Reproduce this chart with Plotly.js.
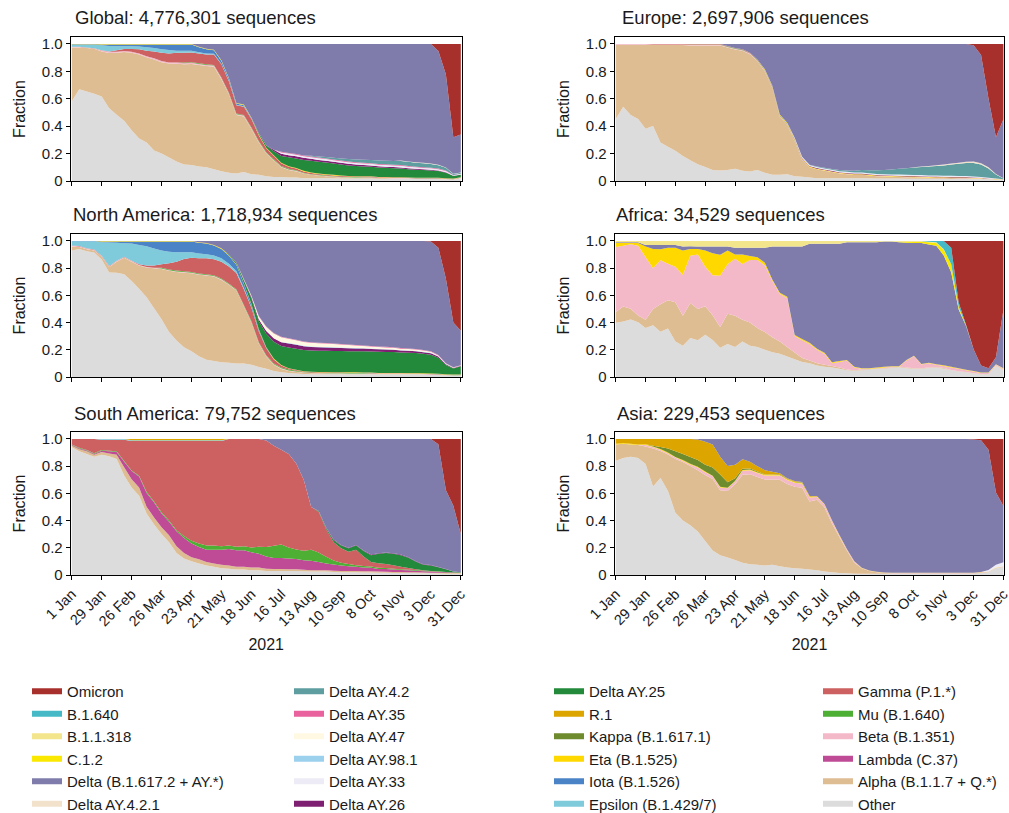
<!DOCTYPE html>
<html><head><meta charset="utf-8">
<script src="https://cdn.plot.ly/plotly-3.0.1.min.js"></script>
<style>html,body{margin:0;padding:0;background:#fff}#chart{width:1009px;height:813px}</style>
</head><body><div id="chart"></div>
<script>
// weekly sample dates (x values)
const weeks = ['2021-01-01','2021-01-08','2021-01-15','2021-01-22','2021-01-29','2021-02-05','2021-02-12','2021-02-19','2021-02-26','2021-03-05',
'2021-03-12','2021-03-19','2021-03-26','2021-04-02','2021-04-09','2021-04-16','2021-04-23','2021-04-30','2021-05-07','2021-05-14',
'2021-05-21','2021-05-28','2021-06-04','2021-06-11','2021-06-18','2021-06-25','2021-07-02','2021-07-09','2021-07-16','2021-07-23',
'2021-07-30','2021-08-06','2021-08-13','2021-08-20','2021-08-27','2021-09-03','2021-09-10','2021-09-17','2021-09-24','2021-10-01',
'2021-10-08','2021-10-15','2021-10-22','2021-10-29','2021-11-05','2021-11-12','2021-11-19','2021-11-26','2021-12-03','2021-12-10',
'2021-12-17','2021-12-24','2021-12-31'];
const tickDates = ['2021-01-01','2021-01-29','2021-02-26','2021-03-26','2021-04-23','2021-05-21','2021-06-18','2021-07-16','2021-08-13','2021-09-10','2021-10-08','2021-11-05','2021-12-03','2021-12-31'];
const tickText = ['1 Jan','29 Jan','26 Feb','26 Mar','23 Apr','21 May','18 Jun','16 Jul','13 Aug','10 Sep','8 Oct','5 Nov','3 Dec','31 Dec'];
const yTickVals = [0,0.2,0.4,0.6,0.8,1.0];
const yTickText = ['0','0.2','0.4','0.6','0.8','1.0'];

// ---------------- Global ----------------
const G_other = [0.58,0.67,0.65,0.63,0.61,0.52,0.48,0.44,0.37,0.31, 0.28,0.22,0.20,0.17,0.14,0.12,0.115,0.105,0.10,0.085, 0.07,0.06,0.055,0.065,0.05,0.045,0.035,0.03,0.03,0.025, 0.025,0.02,0.02,0.02,0.02,0.02,0.018,0.018,0.018,0.018, 0.018,0.017,0.017,0.016,0.016,0.016,0.015,0.015,0.015,0.015, 0.012,0.01,0.02];
const G_alpha = [0.39,0.305,0.315,0.325,0.325,0.395,0.45,0.50,0.565,0.61, 0.62,0.66,0.66,0.68,0.705,0.725,0.73,0.735,0.735,0.745, 0.67,0.57,0.425,0.405,0.33,0.235,0.165,0.12,0.07,0.055, 0.045,0.035,0.025,0.02,0.015,0.01,0.008,0.007,0.006,0.005, 0.005,0.004,0.004,0.003,0.003,0.003,0.002,0.002,0.002,0.002, 0.001,0.001,0.001];
const G_beta = [0.003,0.003,0.003,0.003,0.008,0.008,0.008,0.008,0.008,0.008, 0.008,0.008,0.008,0.008,0.008,0.008,0.008,0.008,0.008,0.008, 0.008,0.006,0.006,0.006,0.006,0.006,0.004,0.004,0.004,0.004, 0.004,0.002,0.002,0.002,0.002,0.002,0.002,0.002,0.002,0.002, 0.002,0.002,0.002,0.002,0.002,0.002,0.002,0.002,0.002,0.002, 0.002,0.002,0.002];
const G_mu = [0,0,0,0,0,0,0,0,0,0, 0,0,0,0,0,0.005,0.005,0.005,0.005,0.005, 0.005,0.005,0.005,0.005,0.005,0.005,0.005,0.005,0.005,0.005, 0.005,0.003,0.003,0.003,0.003,0.003,0.003,0.003,0.003,0.003, 0.003,0.001,0.001,0.001,0.001,0.001,0.001,0.001,0.001,0.001, 0.001,0.001,0.001];
const G_gamma = [0.002,0.002,0.002,0.002,0.002,0.002,0.01,0.015,0.02,0.03, 0.04,0.05,0.06,0.065,0.07,0.07,0.07,0.07,0.07,0.075, 0.095,0.085,0.06,0.06,0.06,0.04,0.03,0.025,0.02,0.015, 0.012,0.01,0.008,0.006,0.006,0.006,0.006,0.004,0.004,0.004, 0.004,0.004,0.004,0.004,0.004,0.002,0.002,0.002,0.002,0.002, 0.002,0.002,0.002];
const G_epsilon = [0.015,0.015,0.02,0.025,0.035,0.04,0.03,0.02,0.02,0.02, 0.025,0.025,0.025,0.025,0.015,0.015,0.012,0.01,0.008,0.006, 0.005,0.004,0.003,0.003,0.003,0,0,0,0,0, 0,0,0,0,0,0,0,0,0,0, 0,0,0,0,0,0,0,0,0,0, 0,0,0];
const G_iota = [0.003,0.003,0.003,0.003,0.006,0.01,0.012,0.012,0.012,0.015, 0.02,0.025,0.035,0.04,0.045,0.045,0.045,0.035,0.03,0.025, 0.02,0.015,0.01,0.008,0.005,0.003,0,0,0,0, 0,0,0,0,0,0,0,0,0,0, 0,0,0,0,0,0,0,0,0,0, 0,0,0];
const G_eta = [0.002,0.002,0.002,0.002,0.004,0.004,0.004,0.004,0.004,0.004, 0.004,0.004,0.004,0.004,0.004,0.004,0.004,0.004,0.004,0.004, 0.004,0.004,0.004,0.004,0.004,0.004,0.004,0.004,0.004,0.004, 0.004,0.004,0.004,0.004,0.004,0.004,0.004,0.002,0.002,0.002, 0.002,0.002,0.002,0.002,0.002,0.002,0.002,0.002,0.002,0.002, 0.002,0.002,0.002];
const G_ay25 = [0,0,0,0,0,0,0,0,0,0, 0,0,0,0,0,0,0,0,0,0, 0,0,0,0,0,0.01,0.015,0.03,0.05,0.065, 0.07,0.08,0.085,0.085,0.085,0.083,0.08,0.078,0.075,0.072, 0.07,0.068,0.066,0.065,0.063,0.06,0.057,0.055,0.052,0.048, 0.04,0.018,0.018];
const G_ay26 = [0,0,0,0,0,0,0,0,0,0, 0,0,0,0,0,0,0,0,0,0, 0,0,0,0,0,0,0,0.01,0.015,0.015, 0.015,0.015,0.015,0.014,0.013,0.012,0.012,0.011,0.01,0.01, 0.009,0.009,0.008,0.008,0.008,0.007,0.007,0.006,0.006,0.005, 0.004,0.002,0.002];
const G_ay33 = [0,0,0,0,0,0,0,0,0,0, 0,0,0,0,0,0,0,0,0,0, 0,0,0,0,0,0,0,0,0.01,0.012, 0.012,0.012,0.012,0.012,0.012,0.012,0.012,0.012,0.012,0.012, 0.012,0.012,0.012,0.012,0.012,0.011,0.011,0.01,0.01,0.009, 0.008,0.004,0.004];
const G_ay35 = [0,0,0,0,0,0,0,0,0,0, 0,0,0,0,0,0,0,0,0,0, 0,0,0,0,0,0,0,0,0.005,0.005, 0.005,0.005,0.005,0.005,0.005,0.005,0.005,0.005,0.005,0.005, 0.005,0.005,0.005,0.005,0.005,0.005,0.004,0.004,0.004,0.004, 0.004,0.001,0.001];
const G_ay42 = [0,0,0,0,0,0,0,0,0,0, 0,0,0,0,0,0,0,0,0,0, 0,0,0,0,0,0,0,0,0,0, 0,0,0.005,0.008,0.01,0.012,0.015,0.018,0.02,0.022, 0.024,0.025,0.026,0.028,0.03,0.03,0.03,0.03,0.028,0.024, 0.02,0.008,0.008];
const G_ay421 = [0,0,0,0,0,0,0,0,0,0, 0,0,0,0,0,0,0,0,0,0, 0,0,0,0,0,0,0,0,0,0, 0,0,0,0,0,0,0,0,0,0, 0,0,0,0,0.003,0.003,0.003,0.003,0.003,0.003, 0.002,0.001,0.001];
const G_delta = [0,0,0,0,0,0,0,0,0,0, 0,0,0,0,0,0,0,0.02,0.035,0.042, 0.119,0.247,0.429,0.441,0.535,0.65,0.741,0.772,0.787,0.795, 0.803,0.814,0.816,0.821,0.825,0.831,0.835,0.84,0.843,0.845, 0.846,0.848,0.85,0.85,0.848,0.853,0.858,0.862,0.867,0.827, 0.678,0.266,0.276];
const G_omicron = [0,0,0,0,0,0,0,0,0,0, 0,0,0,0,0,0,0,0,0,0, 0,0,0,0,0,0,0,0,0,0, 0,0,0,0,0,0,0,0,0,0, 0,0,0,0,0,0,0,0,0,0.05, 0.22,0.68,0.66];

// ---------------- Europe ----------------
const E_other = [0.45,0.54,0.48,0.45,0.38,0.40,0.28,0.25,0.22,0.18, 0.15,0.12,0.10,0.08,0.075,0.08,0.09,0.075,0.07,0.08, 0.06,0.045,0.045,0.05,0.035,0.03,0.025,0.02,0.02,0.02, 0.02,0.02,0.02,0.02,0.02,0.018,0.018,0.018,0.018,0.017, 0.017,0.017,0.016,0.016,0.016,0.015,0.015,0.015,0.015,0.015, 0.012,0.01,0.01];
const E_alpha = [0.54,0.45,0.51,0.54,0.61,0.59,0.71,0.74,0.765,0.80, 0.825,0.855,0.875,0.895,0.90,0.89,0.87,0.875,0.855,0.795, 0.74,0.635,0.425,0.36,0.255,0.12,0.075,0.065,0.055,0.045, 0.035,0.03,0.025,0.025,0.02,0.017,0.015,0.013,0.012,0.011, 0.01,0.009,0.008,0.007,0.006,0.006,0.005,0.005,0.004,0.004, 0.003,0.003,0.002];
const E_beta = [0.005,0.005,0.005,0.005,0.005,0.005,0.005,0.005,0.005,0.005, 0.005,0.005,0.005,0.005,0.005,0.005,0.005,0.005,0.005,0.005, 0.005,0.004,0.004,0.004,0.004,0.004,0.001,0.001,0.001,0.001, 0.001,0.001,0.001,0.001,0.001,0.001,0.001,0.001,0.001,0.001, 0.001,0.001,0.001,0.001,0.001,0.001,0.001,0.001,0.001,0.001, 0.001,0,0];
const E_mu = [0,0,0,0,0,0,0,0,0,0, 0.003,0.003,0.003,0.003,0.003,0.003,0.003,0.003,0.003,0.003, 0.003,0.003,0.003,0.003,0.003,0.003,0,0,0,0, 0,0,0,0,0,0,0,0,0,0, 0,0,0,0,0,0,0,0,0,0, 0,0,0];
const E_gamma = [0,0,0,0,0,0.003,0.003,0.003,0.003,0.003, 0.003,0.003,0.003,0.003,0.003,0.003,0.003,0.003,0.003,0.003, 0.003,0.003,0.003,0.003,0.003,0.003,0,0,0,0, 0,0,0,0,0,0,0,0,0,0, 0,0,0,0,0,0,0,0,0,0, 0,0,0];
const E_eta = [0,0,0,0,0,0,0,0,0,0, 0,0,0,0,0,0,0,0,0,0, 0.004,0.004,0.004,0.004,0.004,0.004,0.004,0.004,0.004,0.004, 0.004,0.004,0.004,0.004,0.004,0.004,0.004,0.004,0.004,0.004, 0.004,0.004,0.004,0.004,0.004,0.004,0.004,0.004,0.002,0.002, 0.001,0.001,0];
const E_ay26 = [0,0,0,0,0,0,0,0,0,0, 0,0,0,0,0,0,0,0,0,0, 0,0,0,0,0.004,0.004,0.004,0.004,0.004,0.004, 0.004,0.004,0.004,0.004,0.004,0.004,0.004,0.004,0.004,0.004, 0.004,0.004,0.004,0.004,0.004,0.004,0.004,0.004,0.003,0.002, 0.002,0.001,0];
const E_ay33 = [0,0,0,0,0,0,0,0,0,0, 0,0,0,0,0,0,0,0,0,0, 0,0,0,0,0.008,0.008,0.008,0.008,0.008,0.008, 0.008,0.008,0.008,0.008,0.008,0.008,0.008,0.008,0.008,0.008, 0.008,0.008,0.008,0.008,0.008,0.008,0.008,0.008,0.007,0.006, 0.005,0.003,0.001];
const E_ay42 = [0,0,0,0,0,0,0,0,0,0, 0,0,0,0,0,0,0,0,0,0, 0,0,0,0,0,0,0.002,0.003,0.004,0.006, 0.008,0.01,0.012,0.018,0.022,0.026,0.03,0.036,0.042,0.048, 0.055,0.06,0.065,0.07,0.075,0.082,0.088,0.095,0.10,0.09, 0.068,0.03,0.006];
const E_ay421 = [0,0,0,0,0,0,0,0,0,0, 0,0,0,0,0,0,0,0,0,0, 0,0,0,0,0,0,0,0,0,0, 0,0,0,0,0,0,0,0,0,0, 0.002,0.003,0.004,0.005,0.006,0.007,0.008,0.009,0.01,0.01, 0.008,0.003,0.001];
const E_delta = [0,0,0,0,0,0,0,0,0,0, 0,0,0,0,0,0.015,0.029,0.039,0.064,0.114, 0.185,0.305,0.515,0.575,0.684,0.82,0.881,0.895,0.904,0.912, 0.92,0.923,0.926,0.92,0.921,0.922,0.92,0.916,0.911,0.907, 0.899,0.894,0.89,0.885,0.88,0.873,0.867,0.859,0.848,0.79, 0.50,0.269,0.43];
const E_omicron = [0,0,0,0,0,0,0,0,0,0, 0,0,0,0,0,0,0,0,0,0, 0,0,0,0,0,0,0,0,0,0, 0,0,0,0,0,0,0,0,0,0, 0,0,0,0,0,0,0,0,0.01,0.08, 0.40,0.68,0.55];

// ---------------- North America ----------------
const NA_other = [0.93,0.94,0.92,0.91,0.86,0.76,0.76,0.75,0.70,0.64, 0.58,0.50,0.42,0.33,0.27,0.22,0.19,0.155,0.13,0.12, 0.11,0.105,0.10,0.10,0.09,0.075,0.06,0.045,0.035,0.03, 0.025,0.022,0.02,0.02,0.02,0.02,0.02,0.02,0.02,0.02, 0.02,0.02,0.02,0.02,0.02,0.02,0.02,0.018,0.016,0.015, 0.012,0.01,0.01];
const NA_alpha = [0.03,0.015,0.015,0.015,0.02,0.04,0.08,0.12,0.14,0.17, 0.215,0.29,0.365,0.45,0.505,0.55,0.575,0.61,0.63,0.635, 0.61,0.575,0.54,0.42,0.31,0.175,0.09,0.045,0.025,0.015, 0.012,0.01,0.008,0.007,0.006,0.005,0.005,0.004,0.004,0.004, 0.003,0.003,0.003,0.003,0.003,0.002,0.002,0.002,0.002,0.002, 0.001,0.001,0.001];
const NA_beta = [0.004,0.004,0.004,0.004,0.004,0.004,0.004,0.004,0.004,0.004, 0.004,0.004,0.004,0.004,0.004,0.004,0.004,0.004,0.004,0.004, 0.004,0.004,0.004,0.004,0.004,0.004,0.004,0.004,0.004,0.004, 0.004,0.002,0.002,0.002,0.002,0.002,0.002,0.002,0.002,0.002, 0.002,0.002,0.002,0.002,0.002,0.002,0.002,0.002,0.002,0.002, 0.002,0.002,0.002];
const NA_mu = [0,0,0,0,0,0,0,0,0,0, 0,0,0.006,0.006,0.006,0.006,0.006,0.006,0.006,0.006, 0.006,0.006,0.006,0.006,0.006,0.006,0.006,0.006,0.006,0.006, 0.006,0.003,0.003,0.003,0.003,0.003,0.003,0.003,0.003,0.003, 0.003,0.001,0.001,0.001,0.001,0.001,0.001,0.001,0.001,0.001, 0.001,0.001,0.001];
const NA_gamma = [0.003,0.003,0.003,0.003,0.003,0.003,0.003,0.003,0.003,0.005, 0.01,0.015,0.025,0.045,0.065,0.09,0.105,0.115,0.12,0.12, 0.125,0.125,0.12,0.115,0.10,0.08,0.05,0.03,0.015,0.008, 0.005,0.003,0.003,0.003,0.003,0.003,0.003,0.003,0.003,0.003, 0.003,0.002,0.002,0.002,0.002,0.002,0.002,0.002,0.002,0.002, 0.002,0.002,0.002];
const NA_epsilon = [0.03,0.035,0.05,0.06,0.10,0.17,0.13,0.10,0.125,0.14, 0.14,0.125,0.10,0.085,0.07,0.05,0.04,0.035,0.03,0.028, 0.025,0.02,0.015,0.01,0.006,0.003,0,0,0,0, 0,0,0,0,0,0,0,0,0,0, 0,0,0,0,0,0,0,0,0,0, 0,0,0];
const NA_iota = [0.003,0.003,0.003,0.003,0.005,0.008,0.01,0.012,0.015,0.025, 0.035,0.05,0.065,0.075,0.08,0.08,0.08,0.08,0.08,0.075, 0.07,0.06,0.045,0.03,0.018,0.01,0.005,0.002,0,0, 0,0,0,0,0,0,0,0,0,0, 0,0,0,0,0,0,0,0,0,0, 0,0,0];
const NA_eta = [0,0,0,0,0.004,0.004,0.004,0.004,0.004,0.004, 0.004,0.004,0.004,0.004,0.004,0.004,0.004,0.004,0.004,0.004, 0.004,0.004,0.004,0.004,0.004,0.004,0.004,0.004,0.004,0.002, 0.002,0.002,0.002,0.002,0.002,0.002,0.002,0.002,0.002,0.002, 0.002,0.002,0.002,0.002,0.002,0.002,0.002,0.002,0.002,0.002, 0.002,0.002,0.002];
const NA_ay25 = [0,0,0,0,0,0,0,0,0,0, 0,0,0,0,0,0,0,0,0,0, 0,0.005,0.01,0.02,0.04,0.06,0.10,0.125,0.14,0.155, 0.155,0.155,0.155,0.155,0.155,0.155,0.155,0.155,0.155,0.155, 0.155,0.155,0.155,0.155,0.15,0.15,0.148,0.145,0.14,0.12, 0.07,0.045,0.06];
const NA_ay26 = [0,0,0,0,0,0,0,0,0,0, 0,0,0,0,0,0,0,0,0,0, 0,0,0.003,0.006,0.01,0.015,0.02,0.025,0.028,0.03, 0.03,0.028,0.027,0.026,0.025,0.024,0.023,0.022,0.021,0.02, 0.019,0.018,0.017,0.016,0.015,0.014,0.013,0.012,0.011,0.009, 0.005,0.003,0.003];
const NA_ay98 = [0,0,0,0,0,0,0,0,0,0, 0,0,0,0,0,0,0,0,0,0, 0,0,0,0,0,0,0,0,0.003,0.003, 0.003,0.003,0.003,0.003,0.003,0.003,0.003,0.003,0.003,0.003, 0.003,0.003,0.003,0.003,0.003,0.003,0.003,0.003,0.003,0.002, 0.001,0.001,0.001];
const NA_ay47 = [0,0,0,0,0,0,0,0,0,0, 0,0,0,0,0,0,0,0,0,0, 0,0,0,0.005,0.01,0.02,0.03,0.035,0.035,0.032, 0.03,0.028,0.027,0.026,0.025,0.024,0.022,0.02,0.018,0.016, 0.015,0.014,0.013,0.012,0.011,0.01,0.01,0.009,0.008,0.006, 0.004,0.002,0.002];
const NA_ay35 = [0,0,0,0,0,0,0,0,0,0, 0,0,0,0,0,0,0,0,0,0, 0,0,0,0,0,0.004,0.004,0.004,0.004,0.004, 0.004,0.004,0.004,0.004,0.004,0.004,0.004,0.004,0.004,0.004, 0.004,0.004,0.004,0.004,0.004,0.004,0.004,0.004,0.004,0.002, 0.002,0.002,0.002];
const NA_delta = [0,0,0,0,0,0,0,0,0,0, 0,0,0,0,0,0,0,0.01,0.015,0.03, 0.055,0.10,0.16,0.28,0.40,0.56,0.63,0.68,0.71,0.725, 0.73,0.735,0.74,0.745,0.745,0.75,0.755,0.76,0.765,0.77, 0.775,0.775,0.78,0.785,0.79,0.795,0.80,0.81,0.81,0.80, 0.63,0.33,0.25];
const NA_omicron = [0,0,0,0,0,0,0,0,0,0, 0,0,0,0,0,0,0,0,0,0, 0,0,0,0,0,0,0,0,0,0, 0,0,0,0,0,0,0,0,0,0, 0,0,0,0,0,0,0,0,0.005,0.05, 0.28,0.60,0.65];

// ---------------- Africa ----------------
const AF_other = [0.40,0.41,0.42,0.40,0.36,0.38,0.33,0.36,0.26,0.23, 0.29,0.27,0.31,0.27,0.21,0.24,0.22,0.26,0.23,0.22, 0.20,0.18,0.17,0.15,0.13,0.11,0.10,0.085,0.075,0.07, 0.06,0.05,0.045,0.05,0.055,0.06,0.06,0.065,0.07,0.065, 0.06,0.06,0.065,0.07,0.06,0.05,0.04,0.035,0.025,0.02, 0.02,0.08,0.05];
const AF_alpha = [0.08,0.11,0.08,0.05,0.06,0.12,0.20,0.21,0.29,0.22, 0.26,0.23,0.21,0.18,0.15,0.22,0.23,0.16,0.17,0.14, 0.13,0.11,0.09,0.07,0.05,0.03,0.02,0.015,0.015,0.01, 0.01,0.005,0.004,0.004,0.004,0.004,0.004,0.004,0.004,0.004, 0.004,0.004,0.004,0.004,0.004,0.002,0.002,0.002,0.002,0.002, 0.002,0.002,0.002];
const AF_beta = [0.48,0.45,0.47,0.51,0.46,0.30,0.32,0.27,0.26,0.30, 0.35,0.40,0.29,0.29,0.37,0.36,0.42,0.41,0.46,0.50, 0.49,0.41,0.35,0.36,0.12,0.13,0.12,0.10,0.08,0.02, 0.04,0.065,0.021,0.006,0.001,0.001,0.006,0.006,0.001,0.051, 0.086,0.026,0.031,0.016,0.016,0.018,0.018,0.013,0.013,0.008, 0.008,0.008,0.008];
const AF_eta = [0.03,0.02,0.01,0.02,0.08,0.14,0.08,0.12,0.14,0.18, 0.05,0.04,0.12,0.16,0.15,0.10,0.03,0.07,0.03,0.02, 0.02,0.01,0.01,0.01,0.008,0.008,0.008,0.008,0.008,0.008, 0.008,0.004,0.004,0.004,0.004,0.004,0.004,0.004,0.004,0.004, 0.004,0.004,0.004,0.004,0.004,0.004,0.004,0.004,0.004,0.004, 0.004,0.004,0.004];
const AF_delta = [0.005,0.005,0.005,0.005,0.01,0.03,0.03,0.02,0.02,0.03, 0.02,0.02,0.03,0.05,0.06,0.03,0.05,0.05,0.06,0.07, 0.11,0.24,0.34,0.37,0.65,0.68,0.72,0.77,0.80,0.87, 0.86,0.86,0.91,0.92,0.925,0.92,0.915,0.91,0.90,0.86, 0.82,0.88,0.86,0.87,0.79,0.69,0.43,0.32,0.16,0.05, 0.03,0.05,0.42];
const AF_c12 = [0,0,0,0,0,0,0,0,0,0, 0,0,0,0,0,0,0,0,0,0, 0,0,0,0,0,0,0,0,0,0, 0,0,0,0,0,0,0,0,0.005,0.008, 0.01,0.01,0.015,0.02,0.04,0.06,0.02,0.005,0,0, 0,0,0];
const AF_b11318 = [0.01,0.01,0.01,0.01,0.03,0.03,0.03,0.03,0.03,0.04, 0.04,0.04,0.04,0.04,0.04,0.04,0.05,0.05,0.05,0.05, 0.05,0.04,0.04,0.04,0.04,0.04,0.02,0.02,0.02,0.02, 0.02,0.01,0.01,0.01,0.01,0.01,0.005,0.005,0.005,0.005, 0.005,0.005,0.005,0.005,0.005,0,0,0,0,0, 0,0,0];
const AF_b1640 = [0,0,0,0,0,0,0,0,0,0, 0,0,0,0,0,0,0,0,0,0, 0,0,0,0,0,0,0,0,0,0, 0,0,0,0,0,0,0,0,0,0, 0,0,0.005,0.01,0.06,0.12,0.03,0.005,0,0, 0,0,0];
const AF_omicron = [0,0,0,0,0,0,0,0,0,0, 0,0,0,0,0,0,0,0,0,0, 0,0,0,0,0,0,0,0,0,0, 0,0,0,0,0,0,0,0,0,0, 0,0,0,0,0,0.05,0.45,0.62,0.80,0.92, 0.94,0.85,0.50];

// ---------------- South America ----------------
const SA_other = [0.93,0.90,0.88,0.86,0.87,0.86,0.84,0.72,0.64,0.58, 0.45,0.37,0.30,0.24,0.16,0.12,0.10,0.085,0.07,0.06, 0.05,0.045,0.04,0.04,0.035,0.035,0.03,0.03,0.03,0.03, 0.03,0.028,0.025,0.025,0.025,0.022,0.02,0.02,0.02,0.018, 0.018,0.017,0.016,0.015,0.015,0.015,0.014,0.013,0.012,0.012, 0.01,0.01,0.01];
const SA_alpha = [0.01,0.015,0.02,0.015,0.02,0.02,0.03,0.06,0.06,0.06, 0.05,0.05,0.05,0.05,0.05,0.04,0.03,0.03,0.025,0.025, 0.025,0.025,0.02,0.02,0.02,0.02,0.015,0.015,0.015,0.012, 0.012,0.01,0.01,0.01,0.01,0.01,0.01,0.01,0.01,0.01, 0.01,0.008,0.008,0.007,0.007,0.006,0.006,0.005,0.005,0.005, 0.005,0.005,0.005];
const SA_lambda = [0.005,0.005,0.005,0.005,0.01,0.015,0.02,0.04,0.06,0.08, 0.10,0.11,0.10,0.10,0.11,0.11,0.10,0.09,0.09,0.10, 0.11,0.12,0.12,0.12,0.11,0.10,0.09,0.08,0.08,0.08, 0.075,0.07,0.07,0.06,0.05,0.045,0.04,0.035,0.03,0.028, 0.025,0.02,0.02,0.018,0.015,0.013,0.012,0.01,0.008,0.006, 0.005,0.003,0.002];
const SA_mu = [0.005,0.005,0.005,0.005,0.005,0.005,0.005,0.005,0.005,0.005, 0.008,0.008,0.008,0.008,0.008,0.015,0.02,0.025,0.03,0.03, 0.025,0.025,0.025,0.03,0.035,0.05,0.07,0.09,0.10,0.08, 0.07,0.07,0.08,0.07,0.05,0.03,0.02,0.015,0.012,0.01, 0.01,0.008,0.007,0.006,0.006,0.005,0.005,0.004,0.003,0.003, 0.002,0.002,0.001];
const SA_gamma = [0.04,0.065,0.08,0.105,0.075,0.08,0.085,0.155,0.215,0.255, 0.372,0.442,0.522,0.582,0.652,0.695,0.73,0.75,0.765,0.765, 0.77,0.775,0.785,0.78,0.79,0.785,0.78,0.735,0.695,0.688, 0.633,0.522,0.315,0.30,0.201,0.134,0.106,0.091,0.114,0.07, 0.033,0.033,0.03,0.025,0.018,0.012,0.005,0.003,0.002,0.002, 0.001,0.001,0];
const SA_epsilon = [0,0,0,0,0.005,0.005,0.005,0.005,0.005,0.005, 0.005,0.005,0.005,0.005,0.005,0.005,0.005,0.005,0.005,0.005, 0.005,0,0,0,0,0,0,0,0,0, 0,0,0,0,0,0,0,0,0,0, 0,0,0,0,0,0,0,0,0,0, 0,0,0];
const SA_r1 = [0,0,0,0,0,0,0,0,0.01,0.01, 0.01,0.01,0.01,0.01,0.01,0.01,0.01,0.01,0.01,0.01, 0.01,0,0,0,0,0,0,0,0,0, 0,0,0,0,0,0,0,0,0,0, 0,0,0,0,0,0,0,0,0,0, 0,0,0];
const SA_ay25 = [0,0,0,0,0,0,0,0,0,0, 0,0,0,0,0,0,0,0,0,0, 0,0,0,0,0,0,0,0,0,0, 0,0,0,0.005,0.01,0.015,0.02,0.025,0.03,0.04, 0.05,0.07,0.08,0.085,0.085,0.075,0.055,0.04,0.04,0.03, 0.02,0.006,0.002];
const SA_ay26 = [0,0,0,0,0,0,0,0,0,0, 0,0,0,0,0,0,0,0,0,0, 0,0,0,0,0,0,0,0,0,0, 0,0,0,0,0.004,0.004,0.004,0.004,0.004,0.004, 0.004,0.004,0.004,0.004,0.004,0.004,0.004,0.004,0.003,0.002, 0.001,0,0];
const SA_delta = [0,0,0,0,0,0,0,0,0,0, 0,0,0,0,0,0,0,0,0,0, 0,0,0,0,0,0,0.012,0.05,0.08,0.11, 0.18,0.30,0.50,0.53,0.65,0.74,0.78,0.80,0.78,0.82, 0.85,0.84,0.835,0.84,0.85,0.87,0.90,0.92,0.93,0.91, 0.59,0.49,0.285];
const SA_omicron = [0,0,0,0,0,0,0,0,0,0, 0,0,0,0,0,0,0,0,0,0, 0,0,0,0,0,0,0,0,0,0, 0,0,0,0,0,0,0,0,0,0, 0,0,0,0,0,0,0,0,0,0.04, 0.38,0.50,0.71];

// ---------------- Asia ----------------
const AS_other = [0.84,0.86,0.87,0.86,0.82,0.65,0.72,0.62,0.45,0.40, 0.36,0.32,0.25,0.18,0.145,0.13,0.11,0.09,0.08,0.075, 0.07,0.075,0.065,0.055,0.05,0.045,0.04,0.035,0.025,0.02, 0.015,0.012,0.01,0.01,0.01,0.01,0.01,0.01,0.01,0.01, 0.01,0.01,0.01,0.01,0.01,0.01,0.01,0.01,0.01,0.015, 0.02,0.05,0.06];
const AS_alpha = [0.12,0.105,0.09,0.095,0.13,0.28,0.20,0.27,0.39,0.43, 0.43,0.45,0.485,0.525,0.475,0.49,0.56,0.65,0.67,0.645, 0.63,0.625,0.645,0.615,0.60,0.595,0.50,0.515,0.475,0.36, 0.265,0.168,0.08,0.04,0.02,0.01,0.005,0.003,0.003,0.003, 0.003,0.003,0.003,0.003,0.003,0.003,0.003,0.003,0.003,0.003, 0.003,0.003,0.003];
const AS_beta = [0,0,0,0,0.01,0.01,0.01,0.01,0.01,0.01, 0.01,0.02,0.02,0.02,0.02,0.02,0.02,0.03,0.03,0.03, 0.03,0.03,0.03,0.03,0.03,0.03,0.03,0.02,0.02,0.02, 0.01,0.01,0.01,0.002,0.002,0.002,0.002,0.002,0.002,0.002, 0.002,0.002,0.002,0.002,0.002,0.002,0.002,0.002,0.002,0.002, 0.002,0.002,0.002];
const AS_eta = [0.005,0.005,0.005,0.005,0.005,0.005,0.005,0.005,0.005,0.005, 0.005,0.005,0.005,0.005,0.005,0.005,0.005,0.005,0.005,0.005, 0.005,0.005,0.005,0.005,0.005,0.005,0.005,0.005,0.005,0.005, 0.005,0.001,0.001,0.001,0.001,0.001,0.001,0.001,0.001,0.001, 0.001,0.001,0.001,0.001,0.001,0.001,0.001,0.001,0.001,0.001, 0.001,0.001,0.001];
const AS_kappa = [0,0,0,0,0,0.005,0.015,0.03,0.04,0.045, 0.05,0.05,0.05,0.06,0.09,0.04,0.02,0.01,0.008,0.005, 0.003,0.003,0.003,0.003,0.003,0.003,0,0,0,0, 0,0,0,0,0,0,0,0,0,0, 0,0,0,0,0,0,0,0,0,0, 0,0,0];
const AS_r1 = [0.035,0.03,0.035,0.04,0.04,0.05,0.06,0.07,0.09,0.11, 0.13,0.15,0.17,0.17,0.13,0.12,0.10,0.07,0.05,0.04, 0.03,0.02,0.01,0.005,0.005,0.005,0.005,0,0,0, 0,0,0,0,0,0,0,0,0,0, 0,0,0,0,0,0,0,0,0,0, 0,0,0];
const AS_ay33 = [0,0,0,0,0,0,0,0,0,0, 0,0,0,0,0,0,0,0,0,0, 0,0,0,0,0,0,0,0,0,0, 0,0,0,0,0,0,0,0,0,0, 0,0,0,0,0,0,0,0,0,0, 0.01,0.02,0.03];
const AS_delta = [0,0,0,0,0,0,0,0,0,0, 0,0.005,0.02,0.04,0.13,0.20,0.19,0.15,0.17,0.20, 0.23,0.24,0.255,0.29,0.31,0.315,0.42,0.42,0.48,0.60, 0.71,0.81,0.905,0.945,0.965,0.975,0.98,0.98,0.98,0.98, 0.98,0.98,0.98,0.98,0.98,0.98,0.98,0.98,0.975,0.96, 0.88,0.54,0.42];
const AS_omicron = [0,0,0,0,0,0,0,0,0,0, 0,0,0,0,0,0,0,0,0,0, 0,0,0,0,0,0,0,0,0,0, 0,0,0,0,0,0,0,0,0,0, 0,0,0,0,0,0,0,0,0.005,0.01, 0.08,0.40,0.50];

// ---------------- styling (stack order bottom -> top) ----------------
const VARIANTS = [
  {key:'other',  name:'Other',                   color:'#DCDCDC', legend:'legend4', rank:6},
  {key:'alpha',  name:'Alpha (B.1.1.7 + Q.*)',   color:'#DFBD92', legend:'legend4', rank:5},
  {key:'lambda', name:'Lambda (C.37)',           color:'#BF4B96', legend:'legend4', rank:4},
  {key:'beta',   name:'Beta (B.1.351)',          color:'#F4B9C9', legend:'legend4', rank:3},
  {key:'mu',     name:'Mu (B.1.640)',            color:'#4DAF34', legend:'legend4', rank:2},
  {key:'gamma',  name:'Gamma (P.1.*)',           color:'#CD6060', legend:'legend4', rank:1},
  {key:'epsilon',name:'Epsilon (B.1.429/7)',     color:'#7FCBDC', legend:'legend3', rank:6},
  {key:'iota',   name:'Iota (B.1.526)',          color:'#4B84C6', legend:'legend3', rank:5},
  {key:'eta',    name:'Eta (B.1.525)',           color:'#FFD800', legend:'legend3', rank:4},
  {key:'kappa',  name:'Kappa (B.1.617.1)',       color:'#6E8B2E', legend:'legend3', rank:3},
  {key:'r1',     name:'R.1',                     color:'#DCA500', legend:'legend3', rank:2},
  {key:'ay25',   name:'Delta AY.25',             color:'#238A3B', legend:'legend3', rank:1},
  {key:'ay26',   name:'Delta AY.26',             color:'#7F1F72', legend:'legend2', rank:6},
  {key:'ay33',   name:'Delta AY.33',             color:'#ECEBF6', legend:'legend2', rank:5},
  {key:'ay98',   name:'Delta AY.98.1',           color:'#9CD1EE', legend:'legend2', rank:4},
  {key:'ay47',   name:'Delta AY.47',             color:'#FFF8E2', legend:'legend2', rank:3},
  {key:'ay35',   name:'Delta AY.35',             color:'#E9629E', legend:'legend2', rank:2},
  {key:'ay42',   name:'Delta AY.4.2',            color:'#5F9EA0', legend:'legend2', rank:1},
  {key:'ay421',  name:'Delta AY.4.2.1',          color:'#F2E2CC', legend:'legend',  rank:6},
  {key:'delta',  name:'Delta (B.1.617.2 + AY.*)',color:'#7F7CAB', legend:'legend',  rank:5},
  {key:'c12',    name:'C.1.2',                   color:'#FAE800', legend:'legend',  rank:4},
  {key:'b11318', name:'B.1.1.318',               color:'#F3E58C', legend:'legend',  rank:3},
  {key:'b1640',  name:'B.1.640',                 color:'#45BAC6', legend:'legend',  rank:2},
  {key:'omicron',name:'Omicron',                 color:'#A8302C', legend:'legend',  rank:1}
];

const REGIONS = [
  {title:'Global: 4,776,301 sequences', tpos:[73,17], series:{other:G_other,alpha:G_alpha,beta:G_beta,mu:G_mu,gamma:G_gamma,epsilon:G_epsilon,iota:G_iota,eta:G_eta,ay25:G_ay25,ay26:G_ay26,ay33:G_ay33,ay35:G_ay35,ay42:G_ay42,ay421:G_ay421,delta:G_delta,omicron:G_omicron}},
  {title:'Europe: 2,697,906 sequences', tpos:[620,17], series:{other:E_other,alpha:E_alpha,beta:E_beta,mu:E_mu,gamma:E_gamma,eta:E_eta,ay26:E_ay26,ay33:E_ay33,ay42:E_ay42,ay421:E_ay421,delta:E_delta,omicron:E_omicron}},
  {title:'North America: 1,718,934 sequences', tpos:[71,214], series:{other:NA_other,alpha:NA_alpha,beta:NA_beta,mu:NA_mu,gamma:NA_gamma,epsilon:NA_epsilon,iota:NA_iota,eta:NA_eta,ay25:NA_ay25,ay26:NA_ay26,ay98:NA_ay98,ay47:NA_ay47,ay35:NA_ay35,delta:NA_delta,omicron:NA_omicron}},
  {title:'Africa: 34,529 sequences', tpos:[614,214], series:{other:AF_other,alpha:AF_alpha,beta:AF_beta,eta:AF_eta,delta:AF_delta,c12:AF_c12,b11318:AF_b11318,b1640:AF_b1640,omicron:AF_omicron}},
  {title:'South America: 79,752 sequences', tpos:[72,413], series:{other:SA_other,alpha:SA_alpha,lambda:SA_lambda,mu:SA_mu,gamma:SA_gamma,epsilon:SA_epsilon,r1:SA_r1,ay25:SA_ay25,ay26:SA_ay26,delta:SA_delta,omicron:SA_omicron}},
  {title:'Asia: 229,453 sequences', tpos:[615,413], series:{other:AS_other,alpha:AS_alpha,beta:AS_beta,eta:AS_eta,kappa:AS_kappa,r1:AS_r1,ay33:AS_ay33,delta:AS_delta,omicron:AS_omicron}}
];

// sanity check
REGIONS.forEach(r=>Object.entries(r.series).forEach(([k,a])=>{ if(a.length!==weeks.length) throw new Error(r.title+' '+k+' length '+a.length); }));

const W=1009, H=813;
const FONT='"Liberation Sans", Arial, Helvetica, sans-serif';
const colPx=[[70.7,461.7],[614.7,1004.3]];
const rowPx=[[37,181],[234,377],[432,575]];
const traces=[]; const seen={};
const layout={width:W,height:H,margin:{l:0,r:0,t:0,b:0,autoexpand:false},paper_bgcolor:'#fff',plot_bgcolor:'#fff',
  font:{family:FONT,size:15,color:'#1a1a1a'},hovermode:false,showlegend:true,annotations:[]};

REGIONS.forEach((reg,i)=>{
  const col=i%2,row=Math.floor(i/2);
  const xa=i===0?'x':'x'+(i+1), ya=i===0?'y':'y'+(i+1);
  let first=true;
  VARIANTS.forEach(v=>{
    const arr=reg.series[v.key]; if(!arr) return;
    const t={type:'scatter',x:weeks,y:arr,name:v.name,xaxis:xa,yaxis:ya,stackgroup:'s'+i,mode:'none',
      fillcolor:v.color,line:{width:0,color:v.color},legend:v.legend,legendrank:v.rank,legendgroup:v.key,
      showlegend:!seen[v.key],hoverinfo:'skip'};
    if(first){t.groupnorm='fraction'; first=false;}
    seen[v.key]=true;
    traces.push(t);
  });
  const xn=i===0?'xaxis':'xaxis'+(i+1), yn=i===0?'yaxis':'yaxis'+(i+1);
  layout[xn]={domain:[colPx[col][0]/W,colPx[col][1]/W],anchor:ya,type:'date',
    range:['2020-12-31 00:00','2021-12-31 20:00'],tickmode:'array',tickvals:tickDates,ticktext:tickText,
    showticklabels:row===2,tickangle:-45,ticks:'outside',ticklen:4,tickwidth:1,tickcolor:'#000',
    ticklabeloverflow:'allow',
    showline:true,mirror:true,linecolor:'#000',linewidth:1,showgrid:false,zeroline:false,
    tickfont:{size:14.5,color:'#1a1a1a'},fixedrange:true};
  if(row===2) layout[xn].title={text:'2021',font:{size:16,color:'#1a1a1a'},standoff:8};
  layout[yn]={domain:[1-rowPx[row][1]/H,1-rowPx[row][0]/H],anchor:xa,range:[0,1.051],
    tickmode:'array',tickvals:yTickVals,ticktext:yTickText,ticks:'outside',ticklen:4,tickwidth:1,tickcolor:'#000',
    showline:true,mirror:true,linecolor:'#000',linewidth:1,showgrid:false,zeroline:false,
    tickfont:{size:15,color:'#1a1a1a'},title:{text:'Fraction',font:{size:16,color:'#1a1a1a'},standoff:12},fixedrange:true};
  layout.annotations.push({text:reg.title,xref:'paper',yref:'paper',x:reg.tpos[0]/W,y:1-reg.tpos[1]/H,
    xanchor:'left',yanchor:'middle',showarrow:false,font:{size:18.5,color:'#1a1a1a'}});
});

const legBase={y:1-675/H,yanchor:'top',xanchor:'left',orientation:'v',traceorder:'normal',
  font:{size:15,color:'#1a1a1a'},bgcolor:'rgba(0,0,0,0)',borderwidth:0,itemclick:false,itemdoubleclick:false};
layout.legend=Object.assign({},legBase,{x:27/W});
layout.legend2=Object.assign({},legBase,{x:289/W});
layout.legend3=Object.assign({},legBase,{x:549/W});
layout.legend4=Object.assign({},legBase,{x:818/W});

Plotly.newPlot('chart',traces,layout,{staticPlot:true,displayModeBar:false});
</script>
</body></html>
